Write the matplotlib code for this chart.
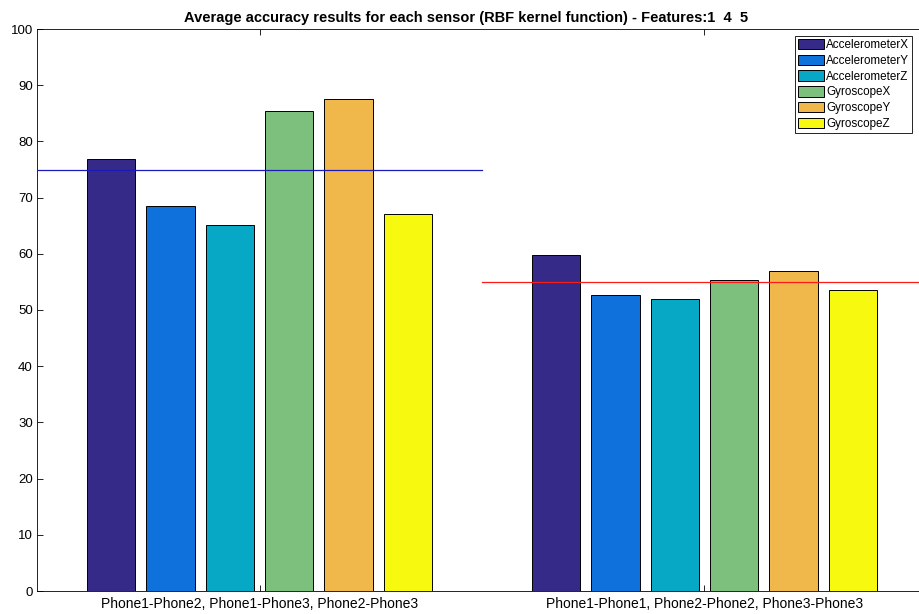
import numpy as np
import matplotlib.pyplot as plt

plt.rcParams['font.family'] = ['Liberation Sans', 'DejaVu Sans']

groups = ['Phone1-Phone2, Phone1-Phone3, Phone2-Phone3',
          'Phone1-Phone1, Phone2-Phone2, Phone3-Phone3']
sensors = ['AccelerometerX', 'AccelerometerY', 'AccelerometerZ',
           'GyroscopeX', 'GyroscopeY', 'GyroscopeZ']
acc_x = [76.8, 59.7]
acc_y = [68.5, 52.6]
acc_z = [65.1, 51.9]
gyro_x = [85.4, 55.3]
gyro_y = [87.6, 56.9]
gyro_z = [67.1, 53.6]
mean_lines = [75.0, 55.0]  # average per group

colors = ['#352a87', '#0f72dc', '#07a8c5', '#7dc07d', '#f0b74b', '#f7f90f']

fig = plt.figure(figsize=(9.2, 6.14), dpi=100)
ax = fig.add_axes([37 / 920, 23 / 614, 890 / 920, 562 / 614])

series = [acc_x, acc_y, acc_z, gyro_x, gyro_y, gyro_z]
x = np.arange(1, len(groups) + 1)
slot = 0.8 / len(series)
for i, vals in enumerate(series):
    offs = (i - (len(series) - 1) / 2) * slot
    ax.bar(x + offs, vals, width=slot * 0.81, color=colors[i],
           edgecolor='black', linewidth=0.7, label=sensors[i], zorder=2)

ax.plot([0.5, 1.5], [mean_lines[0]] * 2, color='#1a1ab8', lw=0.9, zorder=3)
ax.plot([1.5, 2.5], [mean_lines[1]] * 2, color='#ff1a1a', lw=0.9, zorder=3)

ax.set_xlim(0.5, 2.5)
ax.set_ylim(0, 100)
ax.set_xticks(x)
ax.set_xticklabels(groups, fontsize=10)
ax.set_yticks(np.arange(0, 101, 10))
ax.tick_params(direction='in', top=True, right=True, labelsize=9.5,
               length=4, width=0.6, pad=3)
ax.tick_params(axis='x', labelsize=10, pad=4)
for s in ax.spines.values():
    s.set_linewidth(0.6)

ax.set_title('Average accuracy results for each sensor (RBF kernel function) - Features:1  4  5',
             fontsize=10.5, fontweight='bold', pad=5, x=(466 - 37) / 890)

leg = ax.legend(loc='upper left', fontsize=8.4, fancybox=False, edgecolor='black',
                framealpha=1, handlelength=2.2, handleheight=1.0, handletextpad=0.2,
                labelspacing=0.3, borderpad=0.25, borderaxespad=0)
leg.get_frame().set_linewidth(0.6)
leg.set_bbox_to_anchor((795 / 920, 1 - 36 / 614), transform=fig.transFigure)

fig.savefig('out.png', dpi=100)
